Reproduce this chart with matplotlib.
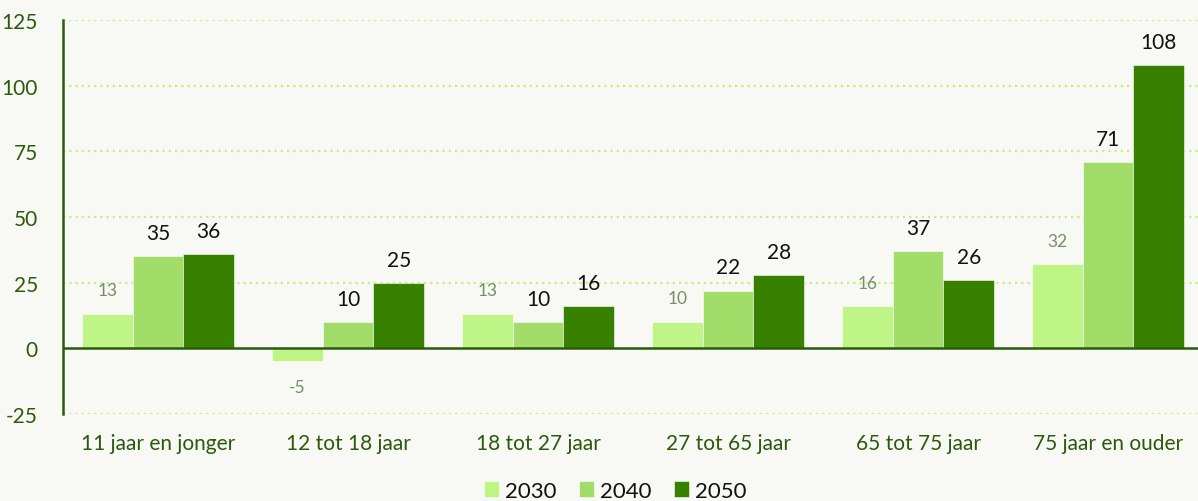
import numpy as np
import matplotlib
matplotlib.use("Agg")
import matplotlib.pyplot as plt

categories = ["11 jaar en jonger", "12 tot 18 jaar", "18 tot 27 jaar",
              "27 tot 65 jaar", "65 tot 75 jaar", "75 jaar en ouder"]
years = ["2030", "2040", "2050"]
v2030 = [13, -5, 13, 10, 16, 32]
v2040 = [35, 10, 10, 22, 37, 71]
v2050 = [36, 25, 16, 28, 26, 108]
yticks = [-25, 0, 25, 50, 75, 100, 125]

colors = ["#bff587", "#a1dd68", "#378000"]
dark = "#2b5a0c"
bg = "#f8f8f4"

plt.rcParams["font.family"] = ["Lato", "DejaVu Sans"]

fig = plt.figure(figsize=(11.98, 5.02), dpi=100, facecolor=bg)
ax = fig.add_axes([63 / 1198, 1 - 415 / 502, 1140 / 1198, 394 / 502], facecolor=bg)

x = np.arange(len(categories))
w = 0.267
series = [v2030, v2040, v2050]
for i, (vals, col, yr) in enumerate(zip(series, colors, years)):
    pos = x + (i - 1) * w
    ax.bar(pos, vals, width=w, color=col, edgecolor="#ffffff", linewidth=0.4,
           label=yr, zorder=3)
    for p, v in zip(pos, vals):
        if i == 0:
            off = 6 if v >= 0 else -6.5
            va = "bottom" if v >= 0 else "top"
            ax.text(p, v + off, f"{v}", ha="center", va=va, fontsize=12.5,
                    color="#74906a", zorder=4)
        else:
            ax.text(p, v + 5, f"{v}", ha="center", va="bottom", fontsize=15,
                    color="#111111", zorder=4)

ax.set_xlim(-0.5, 5.5)
ax.set_ylim(-25, 125)
ax.set_yticks(yticks)
ax.set_yticklabels([str(t) for t in yticks], fontsize=15, color=dark)
ax.set_xticks(x)
ax.set_xticklabels(categories, fontsize=15, color=dark)
ax.tick_params(axis="both", length=0)
ax.tick_params(axis="x", pad=14)
ax.tick_params(axis="y", pad=18)

for t in yticks:
    if t != 0:
        ax.axhline(t, color="#c4f080", linestyle=(0, (1, 1.8)), linewidth=1.6, zorder=1)
ax.axhline(0, color=dark, linewidth=1.8, zorder=5)

for s in ["top", "right", "bottom"]:
    ax.spines[s].set_visible(False)
ax.spines["left"].set_color(dark)
ax.spines["left"].set_linewidth(1.8)

leg = fig.legend(loc="center", bbox_to_anchor=(615 / 1198, 1 - 492 / 502), ncol=3,
                 frameon=False, fontsize=16, handlelength=0.7, handleheight=0.7,
                 handletextpad=0.25, columnspacing=1.0)
for t in leg.get_texts():
    t.set_color("#111111")

fig.savefig("out.png", dpi=100, facecolor=bg)
